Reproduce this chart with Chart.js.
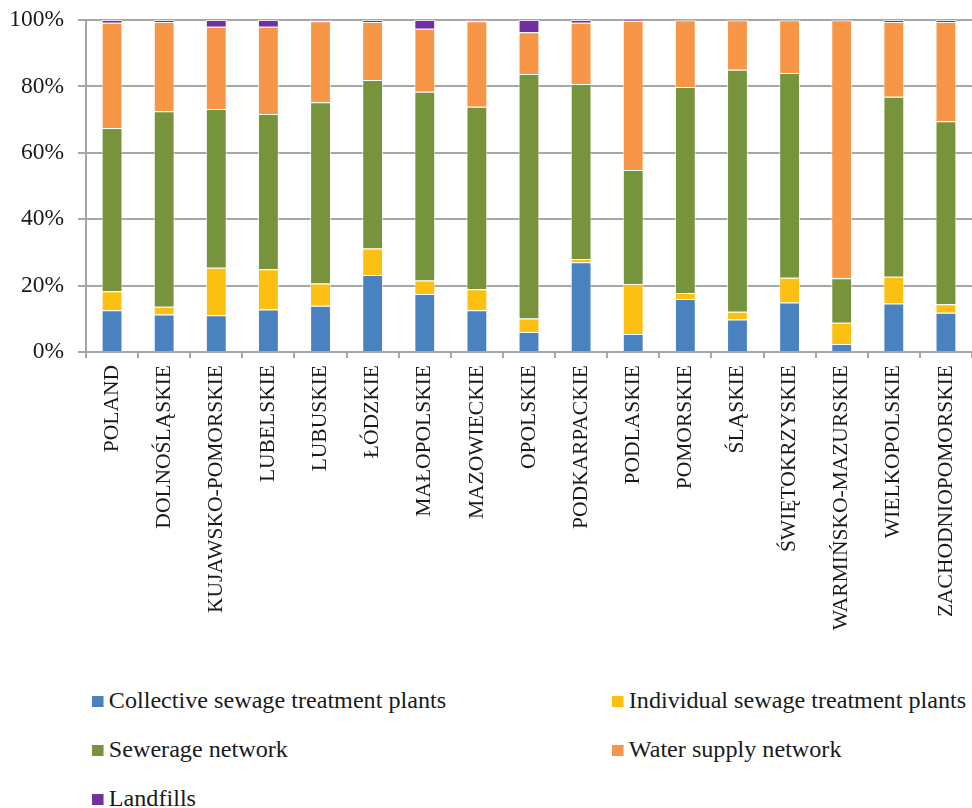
<!DOCTYPE html>
<html>
<head>
<meta charset="utf-8">
<script src="https://cdn.jsdelivr.net/npm/chart.js@4/dist/chart.umd.min.js"></script>
<style>
  body { margin: 0; background: #fff; font-family: "Liberation Serif", serif; }
  #wrap { position: relative; width: 972px; height: 664px; }
  #legend { position: absolute; left: 92px; top: 685px; width: 880px;
            display: grid; grid-template-columns: 520px 360px; grid-auto-rows: 49px;
            font-size: 23px; color: #1a1a1a; }
  #legend div { display: flex; align-items: center; white-space: nowrap; height: 32px;
                transform: scaleX(1.05); transform-origin: left center; }
  #legend span.box { width: 11px; height: 11px; margin-right: 5px; display: inline-block; }
</style>
</head>
<body>
<div id="wrap"><canvas id="chart"></canvas></div>
<div id="legend"></div>
<script>
const regions = ['POLAND', 'DOLNOŚLĄSKIE', 'KUJAWSKO-POMORSKIE', 'LUBELSKIE', 'LUBUSKIE', 'ŁÓDZKIE',
  'MAŁOPOLSKIE', 'MAZOWIECKIE', 'OPOLSKIE', 'PODKARPACKIE', 'PODLASKIE', 'POMORSKIE', 'ŚLĄSKIE',
  'ŚWIĘTOKRZYSKIE', 'WARMIŃSKO-MAZURSKIE', 'WIELKOPOLSKIE', 'ZACHODNIOPOMORSKIE'];

// shares in %
const collective = [12.6, 11.3, 11.1, 12.8, 13.9, 23.2, 17.5, 12.6, 6.0, 27.0, 5.4, 16.0, 9.8, 14.9, 2.4, 14.6, 11.8];
const individual = [5.7, 2.3, 14.3, 12.1, 6.7, 8.0, 4.0, 6.3, 4.1, 1.0, 15.0, 1.8, 2.3, 7.5, 6.4, 8.1, 2.6];
const sewerage = [49.2, 58.9, 47.8, 46.8, 54.6, 50.7, 56.9, 55.0, 73.6, 52.7, 34.4, 62.0, 72.9, 61.6, 13.4, 54.2, 55.1];
const waterSupply = [31.7, 26.9, 24.8, 26.3, 24.4, 17.5, 19.0, 25.7, 12.6, 18.5, 44.9, 20.1, 14.9, 15.9, 77.7, 22.5, 29.9];
const landfills = [0.8, 0.6, 2.0, 2.0, 0.4, 0.6, 2.6, 0.4, 3.7, 0.8, 0.3, 0.1, 0.1, 0.1, 0.1, 0.6, 0.6];

const yTicks = [0, 20, 40, 60, 80, 100];

const series = [
  { label: 'Collective sewage treatment plants', data: collective, color: '#4A81BF' },
  { label: 'Individual sewage treatment plants', data: individual, color: '#FCC012' },
  { label: 'Sewerage network', data: sewerage, color: '#77933C' },
  { label: 'Water supply network', data: waterSupply, color: '#F79646' },
  { label: 'Landfills', data: landfills, color: '#7030A0' }
];

const gridColor = '#a6a6a6';
const font = { family: '"Liberation Serif", serif' };

new Chart(document.getElementById('chart'), {
  type: 'bar',
  data: {
    labels: regions,
    datasets: series.map(s => ({
      label: s.label,
      data: s.data,
      backgroundColor: s.color,
      borderColor: 'rgba(255,255,255,0.7)',
      borderWidth: 1,
      barPercentage: 0.4,
      categoryPercentage: 1.0
    }))
  },
  options: {
    responsive: true,
    maintainAspectRatio: false,
    animation: false,
    layout: { padding: { top: 20, right: 0, left: 0, bottom: 0 } },
    plugins: { legend: { display: false }, tooltip: { enabled: false } },
    scales: {
      x: {
        stacked: true,
        afterFit: s => { s.height = 312; s.paddingLeft = 0; s.paddingRight = 0; },
        border: { color: gridColor, width: 2 },
        grid: { drawOnChartArea: false, drawTicks: true, tickLength: 6, color: gridColor, lineWidth: 2 },
        ticks: { minRotation: 90, maxRotation: 90, autoSkip: false, color: '#1a1a1a',
                 font: { ...font, size: 21.5 }, padding: 7 }
      },
      y: {
        stacked: true,
        min: 0, max: 100,
        afterFit: s => { s.width = 86; s.paddingTop = 0; s.paddingBottom = 0; },
        afterBuildTicks: s => { s.ticks = yTicks.map(v => ({ value: v })); },
        border: { color: gridColor, width: 2 },
        grid: { color: gridColor, lineWidth: 2, tickLength: 8 },
        ticks: { color: '#1a1a1a', font: { ...font, size: 23.5 }, padding: 14,
                 callback: v => v + '%' }
      }
    }
  }
});

const legend = document.getElementById('legend');
series.forEach(s => {
  const item = document.createElement('div');
  item.innerHTML = `<span class="box" style="background:${s.color}"></span>${s.label}`;
  legend.appendChild(item);
});
</script>
</body>
</html>
